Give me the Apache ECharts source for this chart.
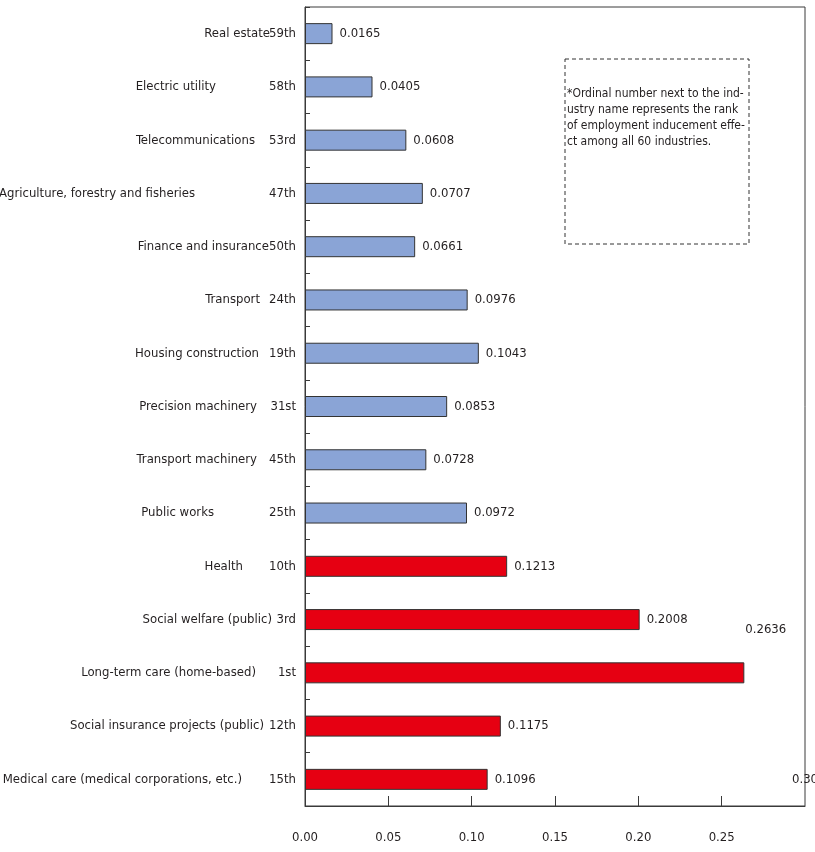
<!DOCTYPE html>
<html>
<head>
<meta charset="utf-8">
<script src="https://cdn.jsdelivr.net/npm/echarts@6/dist/echarts.min.js"></script>
<style>
html,body{margin:0;padding:0;background:#fff;}
#chart{width:815px;height:852px;}
</style>
</head>
<body>
<div id="chart"></div>
<script>
// Data (bottom to top, as drawn on the category axis)
const industries = [
  'Medical care (medical corporations, etc.)',
  'Social insurance projects (public)',
  'Long-term care (home-based)',
  'Social welfare (public)',
  'Health',
  'Public works',
  'Transport machinery',
  'Precision machinery',
  'Housing construction',
  'Transport',
  'Finance and insurance',
  'Agriculture, forestry and fisheries',
  'Telecommunications',
  'Electric utility',
  'Real estate'
];
const ranks = ['15th','12th','1st','3rd','10th','25th','45th','31st','19th','24th','50th','47th','53rd','58th','59th'];
const effects = [0.1096, 0.1175, 0.2636, 0.2008, 0.1213, 0.0972, 0.0728, 0.0853, 0.1043, 0.0976, 0.0661, 0.0707, 0.0608, 0.0405, 0.0165];
const careSector = [true, true, true, true, true, false, false, false, false, false, false, false, false, false, false];
const xTickLabels = ['0.00','0.05','0.10','0.15','0.20','0.25','0.30'];
const noteLines = [
  '*Ordinal number next to the ind-',
  'ustry name represents the rank',
  'of employment inducement effe-',
  'ct among all 60 industries.'
];

// Layout (label column spacing between the industry name and its rank, px)
const rankColumnWidth = [54, 32, 40, 24, 53, 82, 39, 39, 37, 36, 27, 101, 41, 80, 26];

const FONT = "'Liberation Sans Narrow', 'Arial Narrow', 'DejaVu Sans Condensed', sans-serif";
const FS = 13;
const TXT = '#231f20';
const BLUE = '#8aa4d6';
const RED = '#e60012';

const chart = echarts.init(document.getElementById('chart'), null, {renderer: 'canvas'});

const rich = {
  n: {fontFamily: FONT, fontSize: FS, color: TXT, align: 'right'}
};
rankColumnWidth.forEach((w, i) => {
  rich['r' + i] = {fontFamily: FONT, fontSize: FS, color: TXT, align: 'right', width: w};
});

const seriesData = effects.map((v, i) => {
  const item = {
    value: v,
    itemStyle: {color: careSector[i] ? RED : BLUE}
  };
  if (ranks[i] === '1st') {
    item.label = {offset: [-6, -43]};
  }
  return item;
});

const option = {
  animation: false,
  backgroundColor: '#fff',
  textStyle: {fontFamily: FONT},
  grid: {
    left: 305, right: 10, top: 7, bottom: 46,
    containLabel: false,
    outerBoundsMode: 'none',
    show: true, borderColor: '#3a3a3a', borderWidth: 1, backgroundColor: 'transparent'
  },
  xAxis: {
    type: 'value',
    min: 0, max: 0.3, interval: 0.05,
    axisLine: {show: true, lineStyle: {color: '#3a3a3a', width: 1}},
    axisTick: {show: true, inside: true, length: 10, lineStyle: {color: '#3a3a3a'}},
    splitLine: {show: false},
    axisLabel: {
      margin: 25,
      showMaxLabel: false,
      fontFamily: FONT, fontSize: FS, color: TXT,
      formatter: (v) => xTickLabels[Math.round(v / 0.05)]
    }
  },
  yAxis: {
    type: 'category',
    data: industries,
    boundaryGap: true,
    axisLine: {show: true, lineStyle: {color: '#3a3a3a', width: 1}},
    axisTick: {show: true, inside: true, length: 5, lineStyle: {color: '#3a3a3a'}},
    splitLine: {show: false},
    axisLabel: {
      margin: 9,
      formatter: (name, idx) => '{n|' + name + '}{r' + idx + '|' + ranks[idx] + '}',
      rich: rich
    }
  },
  series: [{
    type: 'bar',
    data: seriesData,
    barWidth: 21,
    itemStyle: {borderColor: '#333', borderWidth: 1},
    label: {
      show: true,
      position: 'right',
      distance: 7,
      fontFamily: FONT, fontSize: FS, color: TXT,
      formatter: (p) => p.value.toFixed(4)
    }
  }]
};

chart.setOption(option);

// Note box and the displaced last axis label
const p30 = chart.convertToPixel({gridIndex: 0}, [0.3, 0]);
chart.setOption({
  graphic: [
    {
      type: 'rect',
      shape: {x: 565, y: 59, width: 184, height: 185},
      style: {fill: 'transparent', stroke: '#333', lineWidth: 1, lineDash: [4, 3]},
      z: 10
    },
    {
      type: 'text',
      x: 567, y: 86,
      style: {
        text: noteLines.join('\n'),
        fontFamily: FONT, fontSize: 12, lineHeight: 16, fill: TXT
      },
      z: 10
    },
    {
      type: 'text',
      x: p30[0], y: p30[1],
      style: {
        text: xTickLabels[6],
        fontFamily: FONT, fontSize: FS, fill: TXT,
        align: 'center', verticalAlign: 'middle'
      },
      z: 1
    }
  ]
});
</script>
</body>
</html>
